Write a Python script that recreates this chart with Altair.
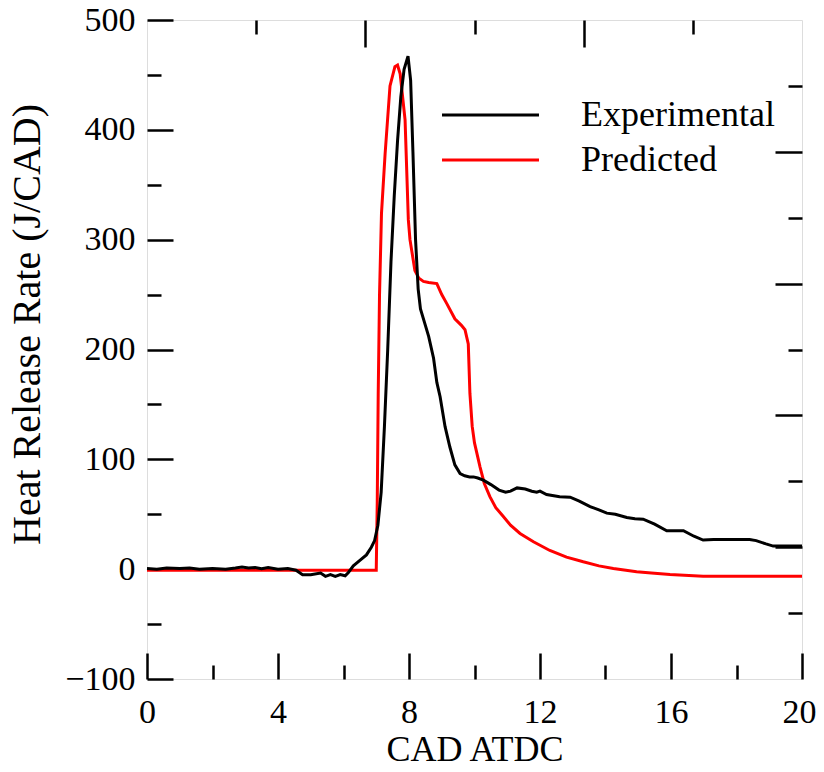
import altair as alt
import pandas as pd

# Experimental heat release rate (J/CAD) vs crank angle (CAD ATDC)
exp_x = [0, 0.3, 0.6, 1.0, 1.3, 1.6, 2.0, 2.4, 2.7, 2.9, 3.1, 3.3, 3.5, 3.7, 4.0, 4.3, 4.55,
         4.75, 5.0, 5.3, 5.45, 5.6, 5.75, 5.9, 6.05, 6.15, 6.3, 6.5, 6.7, 6.85, 6.95, 7.05,
         7.15, 7.25, 7.35, 7.45, 7.55, 7.65, 7.75, 7.85, 7.97, 8.05, 8.12, 8.2, 8.28, 8.35,
         8.5, 8.6, 8.75, 8.85, 8.95, 9.1, 9.25, 9.4, 9.56, 9.7, 9.85, 9.97, 10.1, 10.27, 10.5,
         10.75, 10.95, 11.1, 11.3, 11.55, 11.75, 11.9, 12.0, 12.2, 12.6, 12.92, 13.2, 13.53,
         13.8, 14.04, 14.3, 14.65, 14.9, 15.15, 15.5, 15.87, 16.38, 16.7, 16.98, 17.3, 18.4,
         18.6, 18.9, 19.12, 20]
exp_y = [0.5, 0, 1, 0.5, 1, 0, 0.5, 0, 1, 2, 1, 1.5, 0.5, 1.5, 0, 0.5, -1,
         -5, -5, -3.5, -6.5, -5, -6.5, -5, -6, -3, 3, 8, 13, 20, 26, 40,
         70, 130, 200, 280, 340, 390, 430, 455, 467, 445, 380, 300, 255, 237,
         222, 212, 192, 170, 157, 130, 111, 95, 87, 85, 84, 84, 83, 81, 77,
         72, 70, 71, 74, 73, 71, 70, 71, 68, 66, 65.5, 62, 57,
         54, 51, 50, 47, 46, 45.5, 41, 35, 35, 30, 26.5, 27, 27,
         26, 23, 21, 21]

# Predicted heat release rate
pred_x = [0, 7.0, 7.03, 7.06, 7.1, 7.16, 7.27, 7.42, 7.57, 7.65, 7.73, 7.88, 7.98, 8.03,
          8.18, 8.3, 8.44, 8.6, 8.85, 9.0, 9.15, 9.4, 9.6, 9.71, 9.81, 9.86, 9.93, 10.0,
          10.17, 10.3, 10.47, 10.65, 10.88, 11.1, 11.39, 11.8, 12.3, 12.81, 13.32, 13.8,
          14.24, 14.95, 15.4, 15.97, 16.98, 20]
pred_y = [-1, -1, 60, 160, 250, 324, 378, 440, 457.5, 459, 451, 409, 318, 300,
          272, 265, 262, 261, 260, 250, 242, 228, 222, 218, 205, 160, 130, 115,
          93, 78, 66, 56, 48, 40, 32.5, 25, 17, 11, 6.7, 3,
          0.6, -2.4, -3.5, -4.9, -6.4, -6.4]

# Axis tick values
x_major = [0, 4, 8, 12, 16, 20]
x_minor = [2, 6, 10, 14, 18]
y_major = [-100, 0, 100, 200, 300, 400, 500]
y_minor = [-50, 50, 150, 250, 350, 450]
top_major = [20 / 3, 40 / 3]
top_minor = [10 / 3, 10, 50 / 3]
right_major = [20, 140, 260, 380]
right_minor = [-40, 80, 200, 320, 440]

series = ["Experimental", "Predicted"]
colors = ["black", "red"]

exp_df = pd.DataFrame({"x": exp_x, "y": exp_y, "series": series[0]})
pred_df = pd.DataFrame({"x": pred_x, "y": pred_y, "series": series[1]})

FONT = "Liberation Serif"
xs = alt.Scale(domain=[0, 20], nice=False, zero=False)
ys = alt.Scale(domain=[-100, 500], nice=False, zero=False)
# legend symbol: a horizontal stroke 3x the nominal symbol width (~97 px long)
color = alt.Color("series:N", scale=alt.Scale(domain=series, range=colors),
                  legend=alt.Legend(title=None, orient="none", legendX=325.5, legendY=77,
                                    symbolType="M-3,0H3", symbolSize=1045,
                                    symbolStrokeWidth=3, symbolFillColor="transparent",
                                    labelFont=FONT, labelFontSize=36, labelOffset=72.5,
                                    labelLimit=0, rowPadding=9, padding=0,
                                    labelColor="black"))


def ax(orient, values, size, labels=False, title=None, **kw):
    args = dict(orient=orient, values=values, tickSize=size, offset=-size, domain=False,
                grid=False, tickWidth=2.5, tickColor="black", labels=labels,
                labelOverlap=False, labelFlush=False)
    args["title"] = title
    args.update(kw)
    return alt.Axis(**args)


lbl = dict(labelFont=FONT, labelFontSize=34, labelColor="black", titleFont=FONT,
           titleFontWeight="normal", titleColor="black")

l1 = alt.Chart(exp_df).mark_line(strokeWidth=3).encode(
    x=alt.X("x:Q", scale=xs, axis=ax("bottom", x_major, 26, labels=True, title="CAD ATDC",
                                      labelPadding=16, titleFontSize=36, titlePadding=3,
                                      labelAlign={"condition": {"test": "datum.value >= 20",
                                                                "value": "right"},
                                                  "value": "center"},
                                      labelOffset={"condition": {"test": "datum.value >= 20",
                                                                 "value": 14},
                                                   "value": 0},
                                      **lbl)),
    y=alt.Y("y:Q", scale=ys, axis=ax("left", y_major, 26, labels=True,
                                      title="Heat Release Rate (J/CAD)", labelPadding=12,
                                      titleFontSize=40, titlePadding=17, titleY=304, **lbl)),
    color=color,
)
l2 = alt.Chart(pred_df).mark_line(strokeWidth=3).encode(
    x=alt.X("x:Q", scale=xs, axis=ax("bottom", x_minor, 14)),
    y=alt.Y("y:Q", scale=ys, axis=ax("left", y_minor, 14)),
    color=color,
)
l3 = alt.Chart(exp_df).mark_line(strokeOpacity=0).encode(
    x=alt.X("x:Q", scale=xs, axis=ax("top", top_major, 27)),
    y=alt.Y("y:Q", scale=ys, axis=ax("right", right_major, 27)),
)
l4 = alt.Chart(exp_df).mark_line(strokeOpacity=0).encode(
    x=alt.X("x:Q", scale=xs, axis=ax("top", top_minor, 14)),
    y=alt.Y("y:Q", scale=ys, axis=ax("right", right_minor, 14)),
)

chart = alt.layer(l3, l4, l2, l1).resolve_axis(x="independent", y="independent").properties(
    width=655, height=659,
    autosize=alt.AutoSizeParams(type="none"),
    padding={"left": 139, "top": 12, "right": 14, "bottom": 92},
).configure_view(stroke="black", strokeWidth=3).configure(background="white")

chart.save("out.html", embed_options={"renderer": "svg", "actions": False})
